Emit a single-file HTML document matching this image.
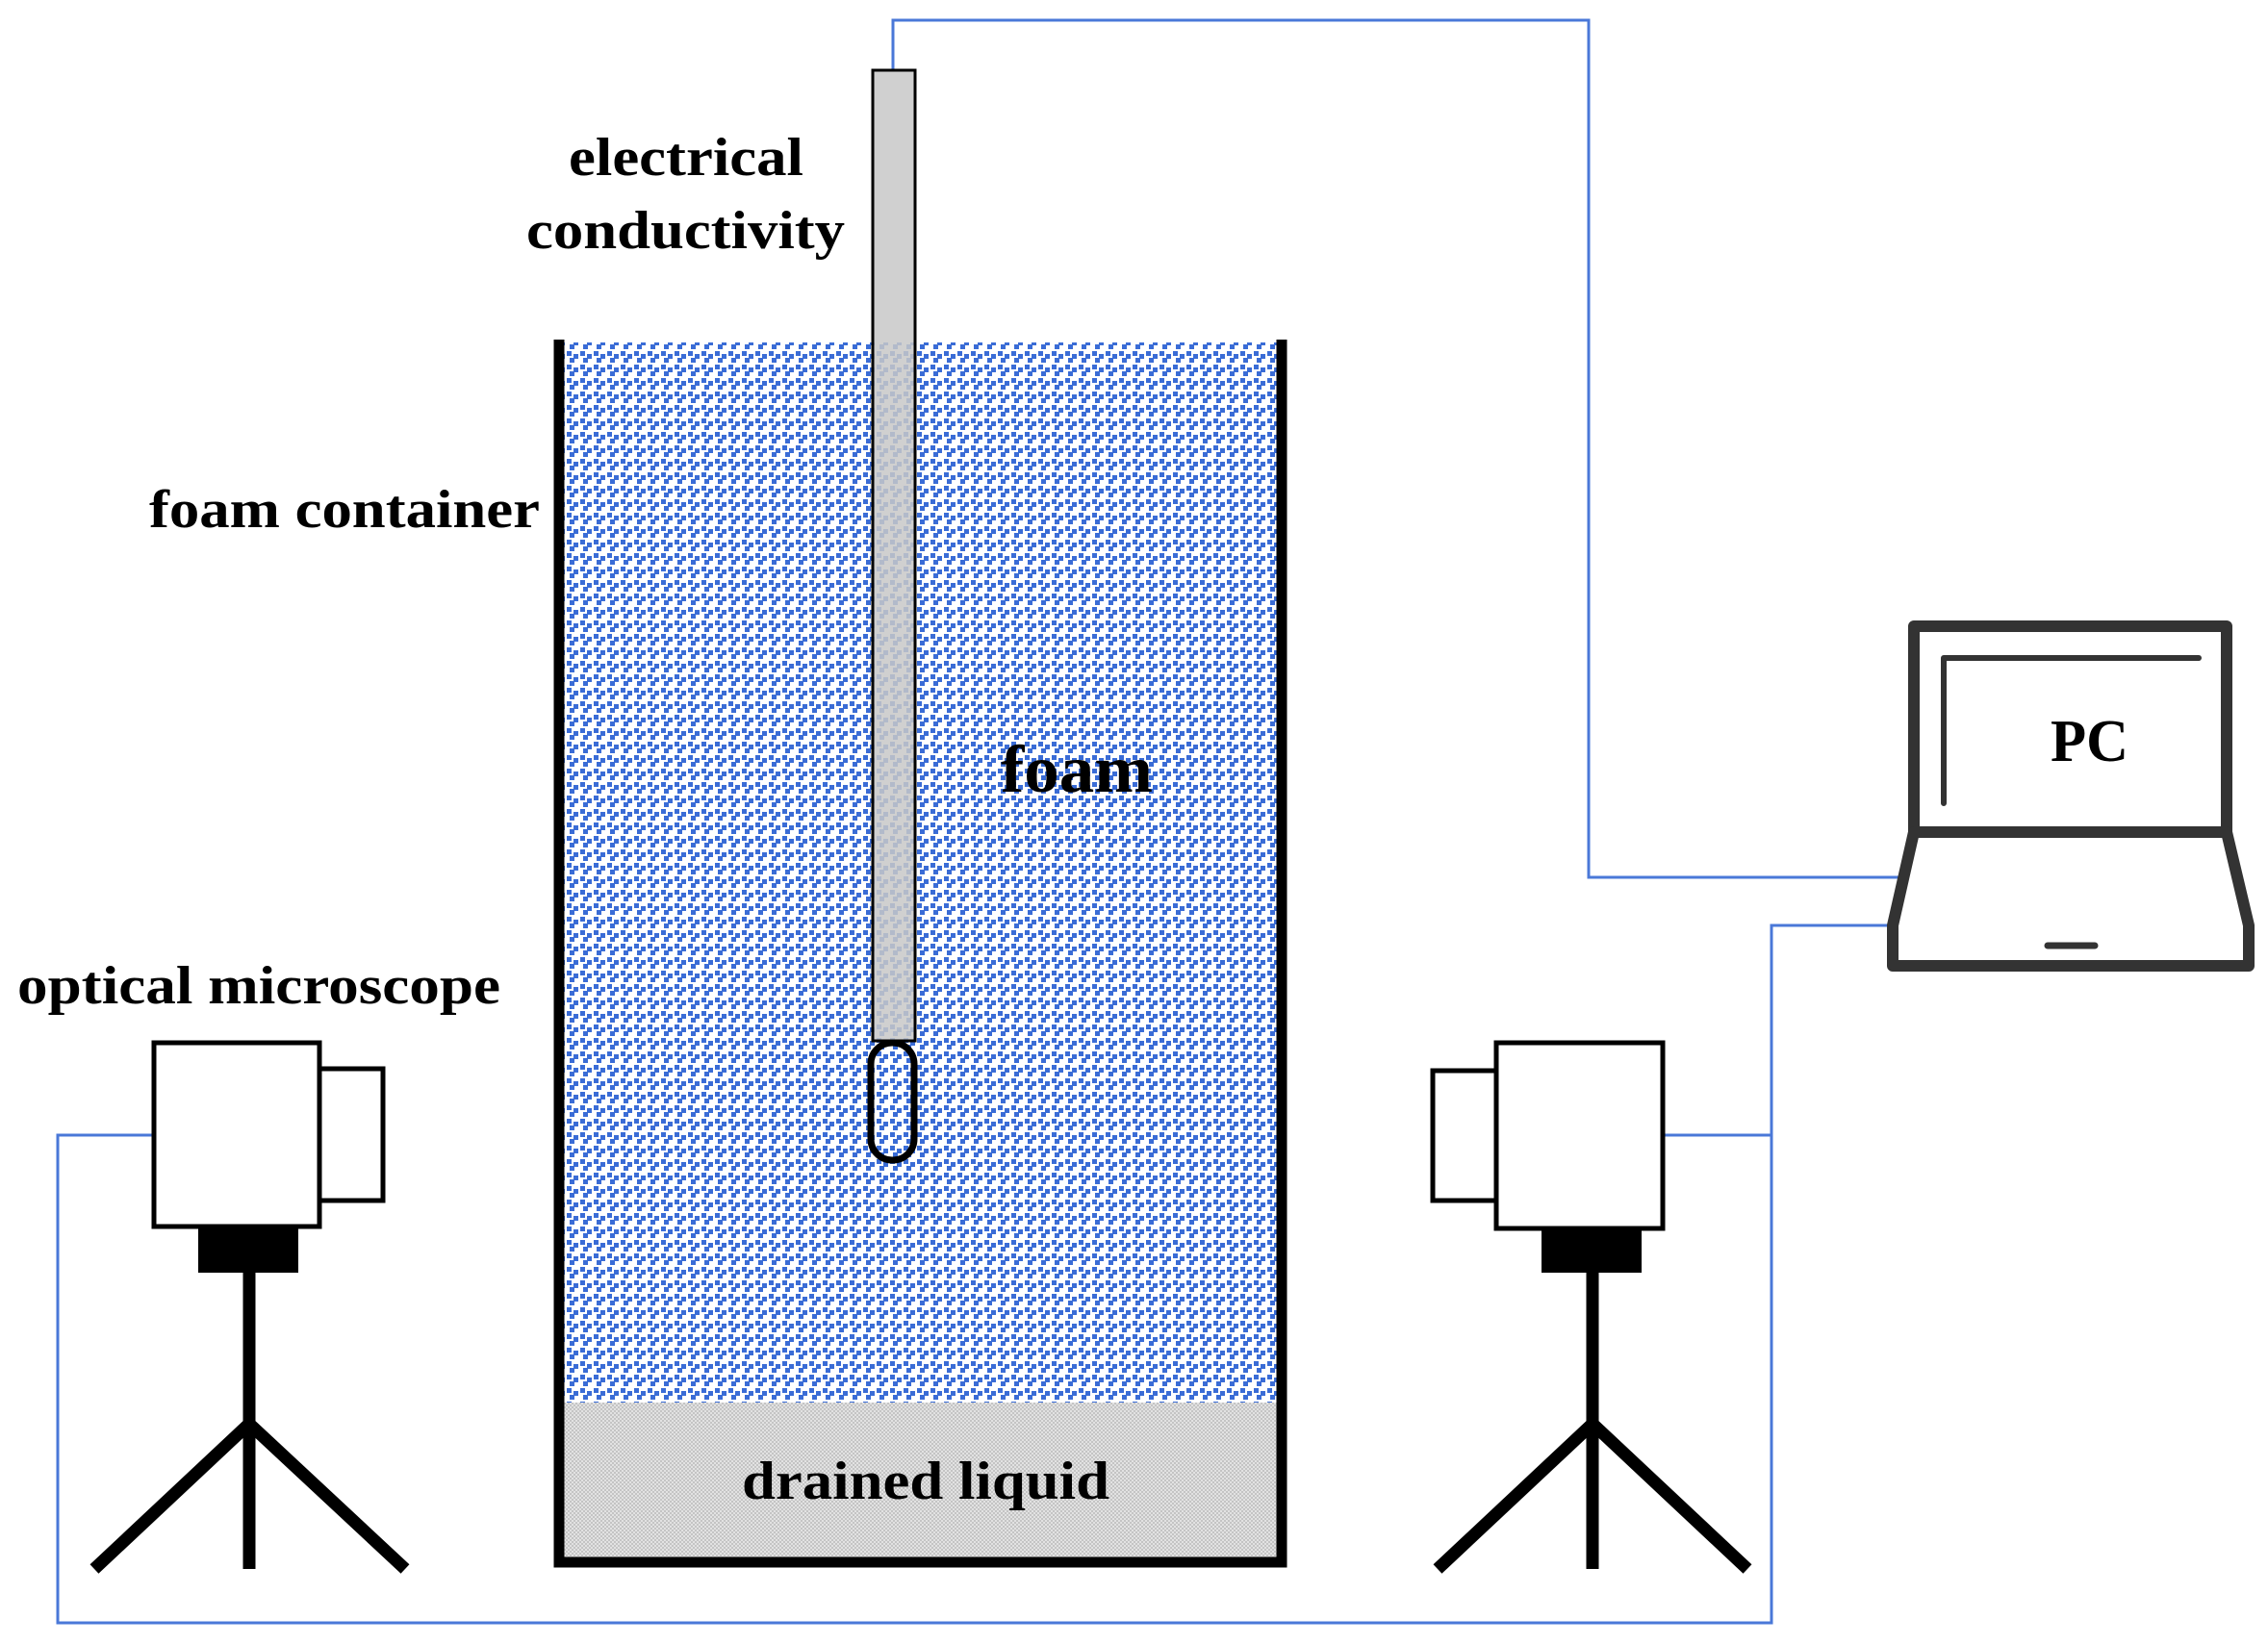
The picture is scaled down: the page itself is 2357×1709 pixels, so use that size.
<!DOCTYPE html>
<html><head><style>
html,body{margin:0;padding:0;background:#fff;}
svg{display:block;}
text{font-family:"Liberation Serif",serif;font-weight:bold;fill:#000;}
</style></head><body>
<svg width="2357" height="1709" viewBox="0 0 2357 1709" xmlns="http://www.w3.org/2000/svg">
<defs>
<pattern id="foam" x="0" y="0" width="14" height="14" patternUnits="userSpaceOnUse">
<rect x="1" y="1" width="5" height="5" fill="#3a6cd6"/>
<rect x="8" y="4" width="5" height="5" fill="#3a6cd6"/>
<rect x="4" y="8" width="5" height="5" fill="#3a6cd6"/>
</pattern>
<pattern id="liq" x="0" y="0" width="4" height="4" patternUnits="userSpaceOnUse">
<rect width="4" height="4" fill="#e2e2e2"/>
<rect x="0" y="0" width="2" height="2" fill="#c4c4c4"/>
<rect x="2" y="2" width="2" height="2" fill="#c4c4c4"/>
</pattern>
</defs>
<rect x="585" y="356" width="742" height="1102" fill="url(#foam)"/>
<rect x="585" y="1458" width="742" height="162" fill="url(#liq)"/>
<path d="M581 353 V1624 H1332 V353" fill="none" stroke="#000" stroke-width="11"/>
<g fill="none" stroke="#4a78d8" stroke-width="3">
<polyline points="928,72 928,21 1651,21 1651,912 1975,912"/>
<polyline points="1966,962 1841,962 1841,1687 60,1687 60,1180 158,1180"/>
<polyline points="1728,1180 1841,1180"/>
</g>
<rect x="907" y="73" width="44" height="1009" fill="#c8c8c8" fill-opacity="0.85" stroke="#000" stroke-width="3"/>
<rect x="905" y="1084" width="45" height="122" rx="22" ry="22" fill="none" stroke="#000" stroke-width="7"/>
<rect x="160" y="1084" width="172" height="191" fill="#fff" stroke="#000" stroke-width="5"/>
<rect x="332" y="1111" width="66" height="137" fill="#fff" stroke="#000" stroke-width="5"/>
<rect x="206" y="1275" width="104" height="48" fill="#000"/>
<g stroke="#000" stroke-width="13">
<line x1="259" y1="1323" x2="259" y2="1631"/>
<line x1="259" y1="1480" x2="98" y2="1631"/>
<line x1="259" y1="1480" x2="421" y2="1631"/>
</g>
<rect x="1555" y="1084" width="173" height="193" fill="#fff" stroke="#000" stroke-width="5"/>
<rect x="1489" y="1113" width="66" height="135" fill="#fff" stroke="#000" stroke-width="5"/>
<rect x="1602" y="1277" width="104" height="46" fill="#000"/>
<g stroke="#000" stroke-width="13">
<line x1="1655" y1="1323" x2="1655" y2="1631"/>
<line x1="1655" y1="1480" x2="1494" y2="1631"/>
<line x1="1655" y1="1480" x2="1816" y2="1631"/>
</g>
<g fill="none" stroke="#333" stroke-linejoin="round" stroke-linecap="round">
<rect x="1989" y="651" width="325" height="214" stroke-width="12"/>
<polyline points="2020,835 2020,684 2285,684" stroke-width="6"/>
<polygon points="1989,865 2314,865 2337,962 2337,1004 1967,1004 1967,962" stroke-width="12"/>
<line x1="2128" y1="983" x2="2177" y2="983" stroke-width="7"/>
</g>
<text x="2131" y="791" font-size="62" textLength="81" lengthAdjust="spacingAndGlyphs">PC</text>
<text x="591" y="182" font-size="56" textLength="244" lengthAdjust="spacingAndGlyphs">electrical</text>
<text x="547" y="258" font-size="56" textLength="331" lengthAdjust="spacingAndGlyphs">conductivity</text>
<text x="155" y="548" font-size="56" textLength="406" lengthAdjust="spacingAndGlyphs">foam container</text>
<text x="18" y="1043" font-size="56" textLength="502" lengthAdjust="spacingAndGlyphs">optical microscope</text>
<text x="1040" y="823" font-size="70" textLength="158" lengthAdjust="spacingAndGlyphs">foam</text>
<text x="771" y="1558" font-size="56" textLength="382" lengthAdjust="spacingAndGlyphs">drained liquid</text>
</svg>
</body></html>
